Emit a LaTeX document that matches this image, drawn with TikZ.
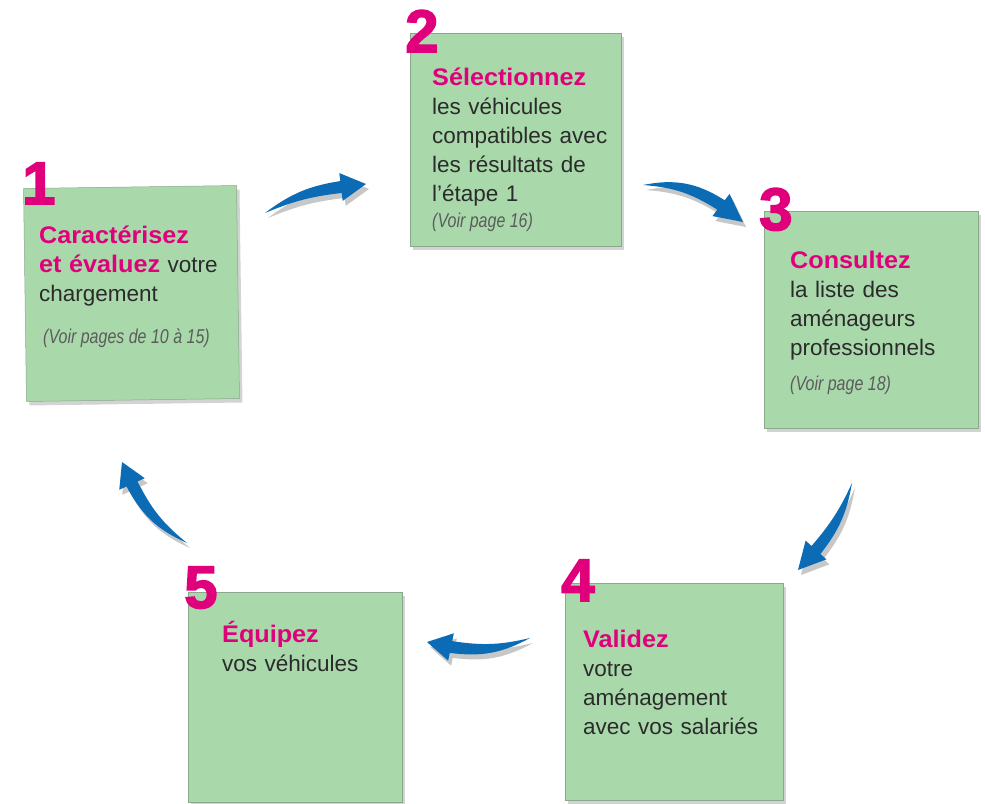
\documentclass[tikz,border=0pt]{standalone}
\usepackage{fontspec}
\setmainfont{Liberation Sans}
\newfontfamily\condit{Liberation Sans}[FakeStretch=0.8]
\newfontfamily\heavy{Liberation Sans}[FakeStretch=1.05]
\newfontfamily\digitfont{Liberation Sans}[FakeBold=2.5]
\usetikzlibrary{shadows,calc}
\definecolor{notefill}{HTML}{A9D9AB}
\definecolor{noteedge}{HTML}{8AA88C}
\definecolor{mag}{HTML}{E0007C}
\definecolor{arrowblue}{HTML}{0B6CB5}
\definecolor{txt}{HTML}{2B2B2B}
\definecolor{reftxt}{HTML}{5C5C5C}
\newcommand\hl[1]{{\heavy\bfseries\fontsize{24}{29}\selectfont\textcolor{mag}{#1}}}
\newcommand\arrowpath[6]{\fill[#1] (#2) to[bend left=#5] ($(#3)!6pt!90:(#4)$) -- ($(#3)!14pt!90:(#4)$) -- (#4) -- ($(#3)!14pt!-90:(#4)$) -- ($(#3)!6pt!-90:(#4)$) to[bend right=#6] (#2) -- cycle;}
\newcommand\cyclearrow[5]{%
  \begin{scope}[transform canvas={shift={(3pt,-5pt)}}]
    \arrowpath{black,opacity=0.22}{#1}{#2}{#3}{#4}{#5}
  \end{scope}
  \arrowpath{arrowblue}{#1}{#2}{#3}{#4}{#5}}
\begin{document}
\begin{tikzpicture}[x=1pt,y=1pt,
  note/.style={draw=noteedge, line width=0.5pt, fill=notefill,
    drop shadow={shadow xshift=3pt, shadow yshift=-4pt, opacity=0.35}, inner sep=0pt},
  body/.style={anchor=base west, inner sep=0pt, text width=#1, align=left, text=txt,
    font=\fontsize{22.5}{29}\selectfont},
  refnote/.style={anchor=base west, inner sep=0pt, text=reftxt,
    font=\condit\itshape\fontsize{20}{24}\selectfont},
  digit/.style={anchor=base west, inner sep=0pt, text=mag,
    font=\digitfont\fontsize{60}{60}\selectfont\bfseries},
]
\useasboundingbox (0,0) rectangle (985,-803);

% notes
\node[note, minimum width=213pt, minimum height=213pt, rotate=0.8] (n1) at (131.5,-293.5) {};
\node[note, minimum width=211pt, minimum height=213pt] (n2) at (515.5,-139.5) {};
\node[note, minimum width=214pt, minimum height=217pt] (n3) at (871,-319.5) {};
\node[note, minimum width=218pt, minimum height=217pt] (n4) at (674,-691.5) {};
\node[note, minimum width=214pt, minimum height=210pt] (n5) at (295,-697) {};

% numbers
\node[digit] (d1) at (22,-204) {1};
\node[digit] (d2) at (405,-52) {2};
\node[digit] (d3) at (759,-230) {3};
\node[digit] (d4) at (561,-601) {4};
\node[digit] (d5) at (184,-608) {5};

% texts
\node[body=200pt] (t1) at (39,-243) {\hl{Caractérisez}\\ \hl{et évaluez} votre\\ chargement};
\node[refnote] (r1) at (43,-343) {(Voir pages de 10 à 15)};
\node[body=185pt] (t2) at (432,-85) {\hl{Sélectionnez}\\ les véhicules\\ compatibles avec\\ les résultats de\\ l’étape 1};
\node[refnote] (r2) at (432,-227) {(Voir page 16)};
\node[body=180pt] (t3) at (790,-268) {\hl{Consultez}\\ la liste des\\ aménageurs\\ professionnels};
\node[refnote] (r3) at (790,-390) {(Voir page 18)};
\node[body=195pt] (t4) at (583,-647) {\hl{Validez}\\ votre\\ aménagement\\ avec vos salariés};
\node[body=175pt] (t5) at (222,-642) {\hl{Équipez}\\ vos véhicules};

% arrows
\coordinate (a12s) at (265,-213); \coordinate (a12b) at (341,-187); \coordinate (a12t) at (366,-184);
\coordinate (a23s) at (643,-185); \coordinate (a23b) at (721,-205); \coordinate (a23t) at (743,-222);
\coordinate (a34s) at (852,-483); \coordinate (a34b) at (816,-550); \coordinate (a34t) at (798,-570);
\coordinate (a45s) at (530,-638); \coordinate (a45b) at (451,-647); \coordinate (a45t) at (427,-642);
\coordinate (a51s) at (187,-543); \coordinate (a51b) at (132,-484); \coordinate (a51t) at (122,-462);
\cyclearrow{a12s}{a12b}{a12t}{14}{8}
\cyclearrow{a23s}{a23b}{a23t}{22}{14}
\cyclearrow{a34s}{a34b}{a34t}{14}{8}
\cyclearrow{a45s}{a45b}{a45t}{18}{11}
\cyclearrow{a51s}{a51b}{a51t}{19}{12}
\end{tikzpicture}
\end{document}
